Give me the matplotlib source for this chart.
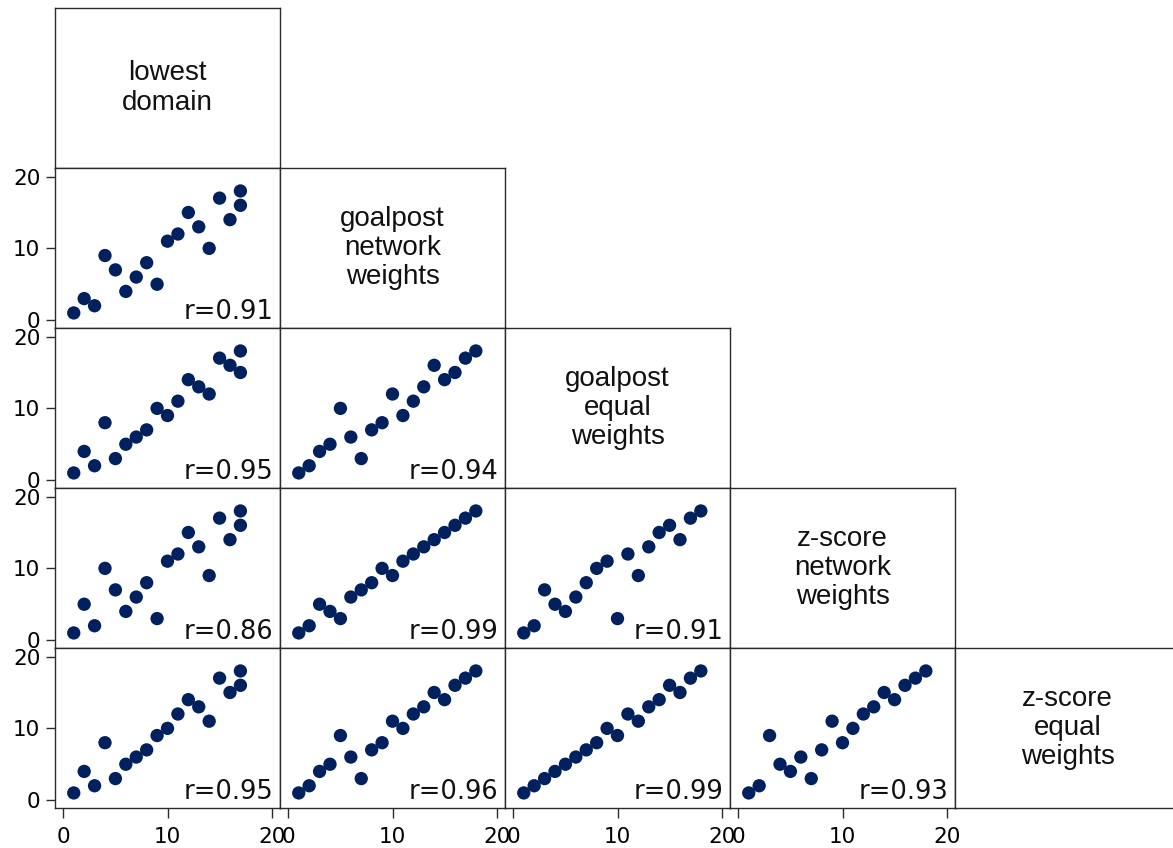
import matplotlib
matplotlib.use("Agg")
import matplotlib.pyplot as plt

# ranks of the 18 units under each method (ordered by lowest domain)
lowest_domain = [1, 2, 3, 4, 5, 6, 7, 8, 9, 10, 11, 12, 13, 14, 15, 16, 17, 17]
goalpost_network = [1, 3, 2, 9, 7, 4, 6, 8, 5, 11, 12, 15, 13, 10, 17, 14, 18, 16]
goalpost_equal = [1, 4, 2, 8, 3, 5, 6, 7, 10, 9, 11, 14, 13, 12, 17, 16, 18, 15]
zscore_network = [1, 5, 2, 10, 7, 4, 6, 8, 3, 11, 12, 15, 13, 9, 17, 14, 18, 16]
zscore_equal = [1, 4, 2, 8, 3, 5, 6, 7, 9, 10, 12, 14, 13, 11, 17, 15, 18, 16]

variables = [lowest_domain, goalpost_network, goalpost_equal, zscore_network, zscore_equal]
labels = ["lowest\ndomain", "goalpost\nnetwork\nweights", "goalpost\nequal\nweights",
          "z-score\nnetwork\nweights", "z-score\nequal\nweights"]

# correlation labels keyed by (row, col)
r_values = {(1, 0): "0.91", (2, 0): "0.95", (3, 0): "0.86", (4, 0): "0.95",
            (2, 1): "0.94", (3, 1): "0.99", (4, 1): "0.96",
            (3, 2): "0.91", (4, 2): "0.99",
            (4, 3): "0.93"}

xticks = [0, 10, 20]
yticks = [0, 10, 20]

W, H = 1173, 848
fig = plt.figure(figsize=(W / 100, H / 100), dpi=100)

navy = "#00215E"
frame = "#2b2b2b"


def cell(row, col):
    x0 = 55 + 225 * col
    y0 = 8 + 160 * row
    ax = fig.add_axes([x0 / W, 1 - (y0 + 160) / H, 225 / W, 160 / H])
    for s in ax.spines.values():
        s.set_color(frame)
        s.set_linewidth(1.0)
    return ax


n = len(variables)
for i in range(n):
    for j in range(i + 1):
        ax = cell(i, j)
        if i == j:
            ax.set_xticks([])
            ax.set_yticks([])
            ax.text(0.5, 0.5, labels[i], ha="center", va="center",
                    transform=ax.transAxes, fontsize=20, linespacing=1.15,
                    family="Liberation Sans", color="#111111")
            continue
        ax.scatter(variables[j], variables[i], s=92, color=navy,
                   edgecolors="none", zorder=3)
        ax.set_xlim(-0.8, 20.8)
        ax.set_ylim(-1.1, 21.2)
        ax.text(0.97, 0.055, "r=" + r_values[(i, j)], ha="right", va="baseline",
                transform=ax.transAxes, fontsize=18.5, color="#111111")
        if j == 0:
            ax.set_yticks(yticks)
            ax.tick_params(axis="y", length=6.5, width=1.0, pad=4,
                           labelsize=15.5, color=frame)
        else:
            ax.set_yticks([])
        if i == n - 1:
            ax.set_xticks(xticks)
            ax.tick_params(axis="x", length=7, width=1.0, pad=7,
                           labelsize=15.5, color=frame)
        else:
            ax.set_xticks([])

fig.savefig("out.png", dpi=100)
plt.close(fig)
